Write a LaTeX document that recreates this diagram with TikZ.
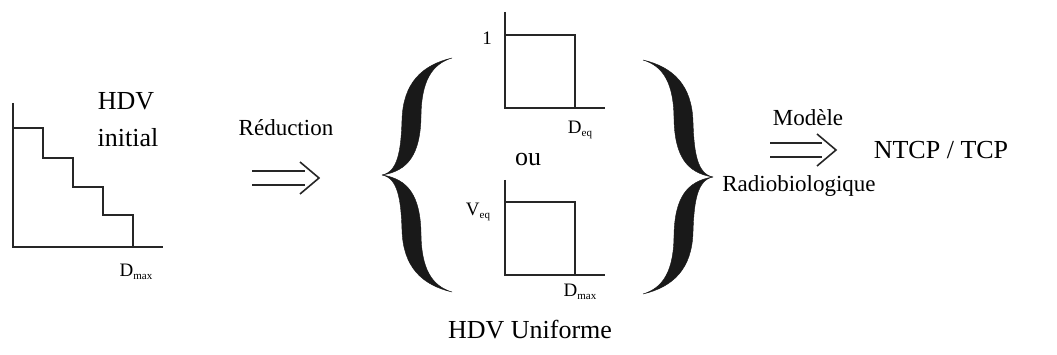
\documentclass[tikz,border=0pt]{standalone}
\usepackage{fontspec}
\setmainfont{Liberation Serif}
\newcommand{\bigtxt}{\fontsize{23}{26}\selectfont}
\newcommand{\hugetxt}{\fontsize{26}{29}\selectfont}
\newcommand{\labtxt}{\fontsize{19}{21}\selectfont}
\newcommand{\subtxt}[1]{\raisebox{-0.35ex}{\fontsize{11}{12}\selectfont #1}}
\tikzset{
  axis/.style={line width=1.3pt, draw=black!85},
  txt/.style={inner sep=0pt, font=\bigtxt},
  htxt/.style={inner sep=0pt, font=\hugetxt},
  lab/.style={inner sep=0pt, font=\labtxt},
  bracefill/.style={fill=black!90, draw=black!90, line width=0.4pt},
  dblarrow/.style={line width=1.6pt, draw=black!85},
}
\newcommand{\halfbrace}{%
  (0,0) .. controls (16,3) and (19,25) .. (20,55)
  .. controls (21,92) and (40,110) .. (70,117)
  .. controls (50,111) and (39,94) .. (39,57)
  .. controls (38,22) and (27,4) .. (0,0) -- cycle}
\begin{document}
\begin{tikzpicture}[x=1pt,y=-1pt]
\useasboundingbox (0,0) rectangle (1057,355);
% ---- left plot (initial DVH)
\draw[axis] (13,103) -- (13,247) -- (163,247);
\draw[axis] (13,128) -- (43,128) -- (43,158) -- (73,158) -- (73,187) -- (103,187) -- (103,215) -- (133,215) -- (133,247);
\node[htxt] (hdv) at (126,101) {HDV};
\node[htxt] (init) at (128,138) {initial};
\node[lab] (dmax1) at (136,272) {D\subtxt{max}};
% ---- reduction
\node[txt] (red) at (286,128) {Réduction};
\coordinate (a1s) at (252,178);
\coordinate (a1e) at (319,178);
\draw[dblarrow] ([yshift=-7]a1s) -- ([xshift=-14,yshift=-7]a1e);
\draw[dblarrow] ([yshift=7]a1s) -- ([xshift=-14,yshift=7]a1e);
\draw[dblarrow] ([xshift=-19,yshift=-16]a1e) -- (a1e) -- ([xshift=-19,yshift=16]a1e);
% ---- left brace
\fill[bracefill, shift={(382,175)}, yscale=-1] \halfbrace;
\fill[bracefill, shift={(382,175)}] \halfbrace;
% ---- top plot
\draw[axis] (505,12) -- (505,108) -- (605,108);
\draw[axis] (505,35) -- (575,35) -- (575,108);
\node[lab] (one) at (487,38) {1};
\node[lab] (deq) at (580,130) {D\subtxt{eq}};
\node[htxt] (ou) at (528,160) {ou};
% ---- bottom plot
\draw[axis] (505,180) -- (505,275) -- (605,275);
\draw[axis] (505,202) -- (575,202) -- (575,275);
\node[lab] (veq) at (478,212) {V\subtxt{eq}};
\node[lab] (dmax2) at (580,292) {D\subtxt{max}};
% ---- right brace
\fill[bracefill, shift={(713,177)}, xscale=-1, yscale=-1] \halfbrace;
\fill[bracefill, shift={(713,177)}, xscale=-1] \halfbrace;
\node[htxt] (unif) at (530,330) {HDV Uniforme};
% ---- model
\node[txt] (mod) at (808,118) {Modèle};
\coordinate (a2s) at (770,150);
\coordinate (a2e) at (836,150);
\draw[dblarrow] ([yshift=-7]a2s) -- ([xshift=-14,yshift=-7]a2e);
\draw[dblarrow] ([yshift=7]a2s) -- ([xshift=-14,yshift=7]a2e);
\draw[dblarrow] ([xshift=-19,yshift=-16]a2e) -- (a2e) -- ([xshift=-19,yshift=16]a2e);
\node[htxt] (ntcp) at (941,150) {NTCP / TCP};
\node[txt] (radio) at (799,186) {Radiobiologique};
\end{tikzpicture}
\end{document}
